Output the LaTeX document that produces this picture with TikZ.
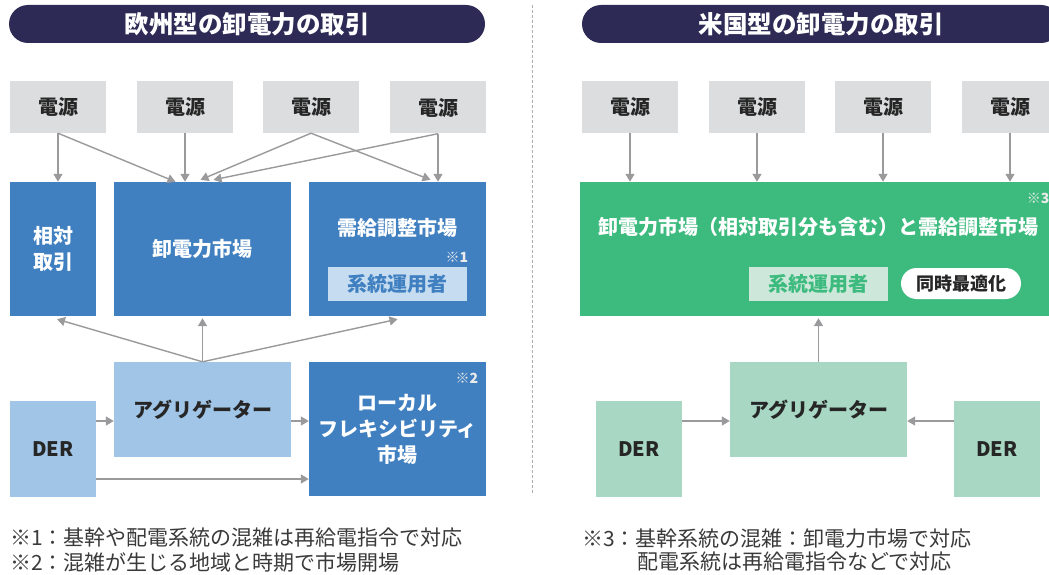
\documentclass[tikz,border=0pt]{standalone}
\usepackage{fontspec}
\setmainfont{Noto Sans CJK JP}
\usetikzlibrary{arrows.meta,shapes.misc}
\definecolor{hdrnavy}{HTML}{2D2B55}
\definecolor{srcgray}{HTML}{DCDDDF}
\definecolor{mblue}{HTML}{4080C1}
\definecolor{lblue}{HTML}{A1C5E7}
\definecolor{pblue}{HTML}{C6DCF0}
\definecolor{mgreen}{HTML}{3DBB7E}
\definecolor{lgreen}{HTML}{A8D8C3}
\definecolor{pgreen}{HTML}{CDE8DA}
\definecolor{arrgray}{HTML}{9A9A9C}
\definecolor{txt}{HTML}{262626}
\definecolor{notetxt}{HTML}{3A3A3A}
\begin{document}
\begin{tikzpicture}[x=1pt,y=-1pt,
  box/.style={rectangle, inner sep=0pt, align=center, font=\bfseries\fontsize{20}{26}\selectfont},
  hdr/.style={rounded rectangle, fill=hdrnavy, text=white, inner sep=0pt, minimum height=38pt, font=\bfseries\fontsize{24.5}{28}\selectfont},
  src/.style={box, fill=srcgray, text=txt, minimum width=96pt, minimum height=52pt},
  mkt/.style={box, fill=mblue, text=white},
  aggL/.style={box, fill=lblue, text=txt},
  aggR/.style={box, fill=lgreen, text=txt},
  wtxt/.style={inner sep=0pt, align=center, text=white, font=\bfseries\fontsize{20}{26}\selectfont},
  notemark/.style={inner sep=0pt, text=white!92!black, font=\bfseries\fontsize{14}{16}\selectfont},
  note/.style={inner sep=0pt, anchor=west, text=notetxt, font=\fontsize{21}{24}\selectfont},
  arr/.style={draw=arrgray, line width=1.4pt, -{Triangle[length=8pt,width=9pt]}}
]
\path[clip] (0,0) rectangle (1049,575);
\fill[white] (0,0) rectangle (1049,575);

% separator
\draw[arrgray!80, line width=1pt, dash pattern=on 3pt off 2pt] (532,5) -- (532,495);

% ===== Left: Europe =====
\node[hdr, minimum width=476pt] (hL) at (247,24) {欧州型の卸電力の取引};

\node[src] (L1) at (58,107) {電源};
\node[src] (L2) at (185,107) {電源};
\node[src] (L3) at (311,107) {電源};
\node[src] (L4) at (438,107.5) {電源};

\node[mkt, minimum width=86pt, minimum height=134pt] (Ls) at (53,249) {相対\\取引};
\node[mkt, minimum width=177pt, minimum height=134pt] (Lw) at (202.5,249) {卸電力市場};
\node[mkt, minimum width=177pt, minimum height=134pt] (Lj) at (397.5,249) {};
\node[wtxt] (LjT) at (397.5,228) {需給調整市場};
\node[notemark] (Lm1) at (457,257) {※1};
\node[box, fill=pblue, text=mblue, minimum width=139pt, minimum height=34pt] (Lsys) at (397.5,284) {系統運用者};

\node[aggL, minimum width=177pt, minimum height=95pt] (La) at (202.5,409.5) {アグリゲーター};
\node[aggL, minimum width=86pt, minimum height=96pt] (LD) at (53,449) {DER};
\node[mkt, minimum width=177pt, minimum height=134pt] (Ll) at (397.5,429) {ローカル\\フレキシビリティ\\市場};
\node[notemark] (Lm2) at (467,378) {※2};

% arrows from sources
\draw[arr] (L1.south) -- (L1.south |- Ls.north);
\draw[arr] (L1.south) -- ([xshift=-27pt]Lw.north);
\draw[arr] (L2.south) -- (L2.south |- Lw.north);
\draw[arr] (L3.south) -- ([xshift=-2pt,yshift=2pt]Lw.north);
\draw[arr] (L3.south) -- ([xshift=33pt,yshift=2pt]Lj.north);
\draw[arr] (L4.south) -- (L4.south |- Lj.north);
\draw[arr] (L4.south) -- ([xshift=11pt,yshift=2pt]Lw.north);

% arrows from aggregator
\draw[arr] (La.north) -- ([xshift=4pt,yshift=-3pt]Ls.south);
\draw[arr] (La.north) -- ([yshift=-2pt]Lw.south);
\draw[arr] (La.north) -- ([yshift=-3pt]Lj.south);

\draw[arr] ([yshift=28pt]LD.east) -- ([yshift=28pt]LD.east -| La.west);
\draw[arr] ([yshift=-11.5pt]La.east) -- ([yshift=-11.5pt]La.east -| Ll.west);
\draw[arr] ([yshift=-30pt]LD.east) -- ([yshift=-30pt]LD.east -| Ll.west);

\node[note] (n1) at (10,538) {※1：基幹や配電系統の混雑は再給電指令で対応};
\node[note] (n2) at (10,562) {※2：混雑が生じる地域と時期で市場開場};

% ===== Right: US =====
\node[hdr, minimum width=478pt] (hR) at (821,24) {米国型の卸電力の取引};

\node[src] (R1) at (630,107) {電源};
\node[src] (R2) at (757,107) {電源};
\node[src] (R3) at (883,107) {電源};
\node[src] (R4) at (1010,107) {電源};

\node[box, fill=mgreen, minimum width=482pt, minimum height=134pt] (Rg) at (821,249) {};
\node[wtxt] (RgT) at (818,227) {卸電力市場（相対取引分も含む）と需給調整市場};
\node[notemark] (Rm3) at (1038,198) {※3};
\node[box, fill=pgreen, text=mgreen, minimum width=139pt, minimum height=34pt] (Rsys) at (818.5,284) {系統運用者};
\node[rounded rectangle, fill=white, text=txt, inner sep=0pt, minimum width=120pt, minimum height=31pt, font=\bfseries\fontsize{18}{22}\selectfont] (Rsim) at (961,283.5) {同時最適化};

\draw[arr] (R1.south) -- (R1.south |- Rg.north);
\draw[arr] (R2.south) -- (R2.south |- Rg.north);
\draw[arr] (R3.south) -- (R3.south |- Rg.north);
\draw[arr] (R4.south) -- (R4.south |- Rg.north);

\node[aggR, minimum width=177pt, minimum height=95pt] (Ra) at (818.5,409.5) {アグリゲーター};
\node[aggR, minimum width=86pt, minimum height=96pt] (RD1) at (639,449) {DER};
\node[aggR, minimum width=86pt, minimum height=96pt] (RD2) at (997,449) {DER};

\draw[arr] (Ra.north) -- ([yshift=-2pt]Ra.north |- Rg.south);
\draw[arr] ([yshift=28pt]RD1.east) -- ([yshift=28pt]RD1.east -| Ra.west);
\draw[arr] ([yshift=28pt]RD2.west) -- ([yshift=28pt]RD2.west -| Ra.east);

\node[note] (n3) at (582,539) {※3：基幹系統の混雑：卸電力市場で対応};
\node[note] (n4) at (637,562) {配電系統は再給電指令などで対応};
\end{tikzpicture}
\end{document}
